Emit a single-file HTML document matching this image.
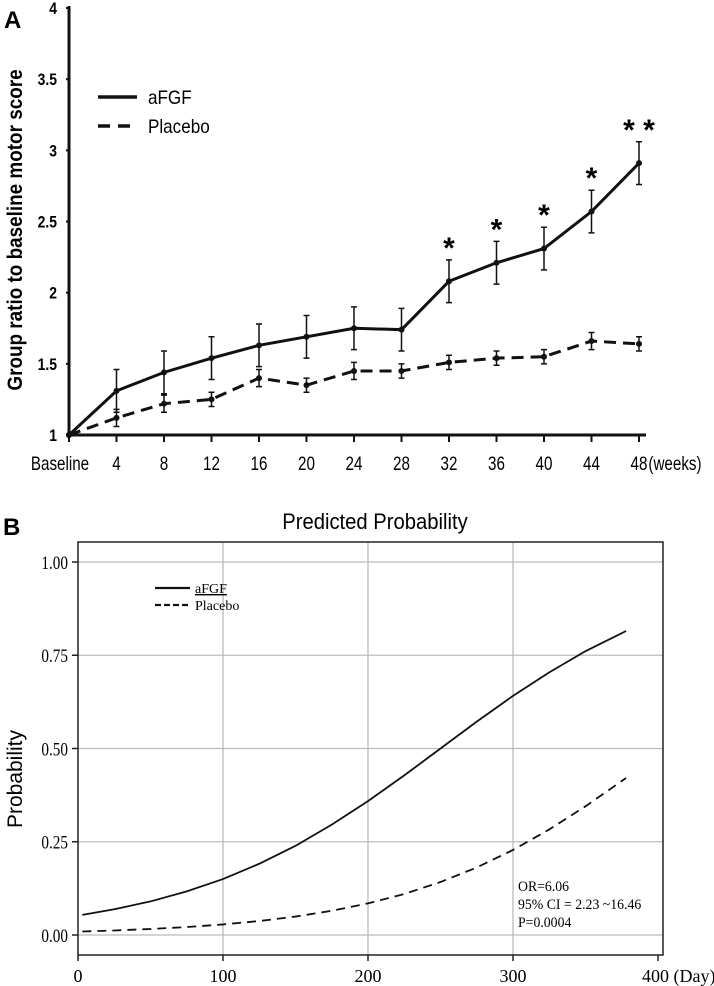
<!DOCTYPE html>
<html><head><meta charset="utf-8"><style>
html,body{margin:0;padding:0;background:#fff;}
svg{display:block;}
.sa{font-family:"Liberation Sans",sans-serif;}
.se{font-family:"Liberation Serif",serif;}
</style></head><body>
<svg id="fig" width="714" height="986" viewBox="0 0 714 986" xmlns="http://www.w3.org/2000/svg">
<g id="pa"></g>
<g id="pb"></g>
</svg>
<script>
// ---------- Panel A data ----------
const weekCats = ["Baseline","4","8","12","16","20","24","28","32","36","40","44","48"];
const afgfVals = [1,1.31,1.44,1.54,1.63,1.69,1.75,1.74,2.08,2.21,2.31,2.57,2.91];
const afgfErr  = [0,0.15,0.15,0.15,0.15,0.15,0.15,0.15,0.15,0.15,0.15,0.15,0.15];
const placeboVals = [1,1.12,1.22,1.25,1.40,1.35,1.45,1.45,1.51,1.54,1.55,1.66,1.64];
const placeboErr  = [0,0.06,0.06,0.05,0.06,0.05,0.06,0.05,0.05,0.05,0.05,0.06,0.05];
const starLabels = ["","","","","","","","","*","*","*","*","* *"];
const yTicksA = [1,1.5,2,2.5,3,3.5,4];
const yTickLabelsA = ["1","1.5","2","2.5","3","3.5","4"];
// ---------- Panel B data ----------
const days = [3,25,50,75,100,125,150,175,200,225,250,275,300,325,350,378];
const afgfProb = [0.054,0.069,0.090,0.117,0.150,0.191,0.239,0.296,0.359,0.428,0.500,0.572,0.641,0.704,0.761,0.815];
const placeboProb = [0.0094,0.0121,0.0161,0.0213,0.0283,0.0375,0.0494,0.0649,0.0848,0.110,0.142,0.181,0.228,0.283,0.345,0.421];
const yTicksB = [0,0.25,0.5,0.75,1];
const yTickLabelsB = ["0.00","0.25","0.50","0.75","1.00"];
const xTicksB = [0,100,200,300,400];
const xTickLabelsB = ["0","100","200","300","400 (Day)"];

const NS="http://www.w3.org/2000/svg";
function mk(parent,tag,attrs,text){const e=document.createElementNS(NS,tag);for(const k in attrs)e.setAttribute(k,attrs[k]);if(text!==undefined)e.textContent=text;parent.appendChild(e);return e;}

// ===== Panel A =====
const pa=document.getElementById('pa');
const xA=i=>69+i*47.5;
const yA=v=>435-(v-1)*142.33;
let t=mk(pa,'text',{x:4,y:28,'font-size':24,'font-weight':'bold',class:'sa'},'A');


let ax=mk(pa,'line',{x1:69,y1:6,x2:69,y2:438,stroke:'#111','stroke-width':3});


ax=mk(pa,'line',{x1:67,y1:435,x2:646,y2:435,stroke:'#111','stroke-width':3});


yTicksA.forEach((v,i)=>{
  mk(pa,'line',{x1:66,y1:yA(v),x2:69,y2:yA(v),stroke:'#111','stroke-width':2});
  const l=mk(pa,'text',{x:57,y:yA(v)+6,'text-anchor':'end','font-size':17,'font-weight':'bold',class:'sa',transform:`translate(57,0) scale(0.82,1) translate(-57,0)`},yTickLabelsA[i]);
  
  
});
weekCats.forEach((c,i)=>{
  mk(pa,'line',{x1:xA(i),y1:435,x2:xA(i),y2:442,stroke:'#111','stroke-width':2});
  const x=i===0?60:xA(i);
  const l=mk(pa,'text',{x:x,y:470,'text-anchor':'middle','font-size':19,class:'sa',transform:`translate(${x},0) scale(0.8,1) translate(${-x},0)`},c);
  
  
});
t=mk(pa,'text',{x:675,y:470,'text-anchor':'middle','font-size':19,class:'sa',transform:'translate(675,0) scale(0.8,1) translate(-675,0)'},'(weeks)');


t=mk(pa,'text',{x:0,y:0,'text-anchor':'middle','font-size':21,'font-weight':'bold',class:'sa',transform:'translate(22,230) rotate(-90) scale(0.9,1)'},'Group ratio to baseline motor score');


function seriesA(vals,errs,dash,name){
  const g=mk(pa,'g',{});
  
  
  const p=mk(g,'polyline',{points:vals.map((v,i)=>xA(i)+','+yA(v)).join(' '),fill:'none',stroke:'#111','stroke-width':3,'stroke-dasharray':dash});
  
  
  vals.forEach((v,i)=>{
    if(errs[i]>0){
      const e=mk(g,'path',{d:`M${xA(i)},${yA(v+errs[i])}V${yA(v-errs[i])}M${xA(i)-3},${yA(v+errs[i])}h6M${xA(i)-3},${yA(v-errs[i])}h6`,stroke:'#111','stroke-width':1.5,fill:'none'});
      
      
    }
    const c=mk(g,'circle',{cx:xA(i),cy:yA(v),r:3,fill:'#111'});
    
    
  });
}
seriesA(placeboVals,placeboErr,'12,7','placebo-series-a');
seriesA(afgfVals,afgfErr,'','afgf-series-a');
starLabels.forEach((s,i)=>{
  if(!s)return;
  const st=mk(pa,'text',{x:xA(i),y:yA(afgfVals[i]+afgfErr[i])-2,'text-anchor':'middle','font-size':30,'font-weight':'bold',class:'sa'},s);
  
  
});
let lg=mk(pa,'g',{});


mk(lg,'line',{x1:98,y1:97,x2:137,y2:97,stroke:'#111','stroke-width':3.5});
t=mk(lg,'text',{x:148,y:104,'font-size':19,class:'sa',transform:'translate(148,0) scale(0.9,1) translate(-148,0)'},'aFGF');


mk(lg,'line',{x1:98,y1:126,x2:137,y2:126,stroke:'#111','stroke-width':3.5,'stroke-dasharray':'12,8'});
t=mk(lg,'text',{x:148,y:133,'font-size':19,class:'sa',transform:'translate(148,0) scale(0.9,1) translate(-148,0)'},'Placebo');



// ===== Panel B =====
const pb=document.getElementById('pb');
const xB=d=>78+d*1.45;
const yB=v=>935-v*373;
t=mk(pb,'text',{x:3,y:535,'font-size':24,'font-weight':'bold',class:'sa'},'B');


t=mk(pb,'text',{x:375,y:529,'text-anchor':'middle','font-size':22,class:'sa',transform:'translate(375,0) scale(0.92,1) translate(-375,0)'},'Predicted Probability');


xTicksB.forEach(d=>{ if(d>0&&d<400) mk(pb,'line',{x1:xB(d),y1:542,x2:xB(d),y2:955,stroke:'#bbb','stroke-width':1.3}); });
yTicksB.forEach(v=>{ mk(pb,'line',{x1:78,y1:yB(v),x2:663,y2:yB(v),stroke:'#bbb','stroke-width':1.3}); });
let box=mk(pb,'rect',{x:78,y:542,width:585,height:413,fill:'none',stroke:'#222','stroke-width':1.5});


yTicksB.forEach((v,i)=>{
  mk(pb,'line',{x1:72,y1:yB(v),x2:78,y2:yB(v),stroke:'#222','stroke-width':1.5});
  const l=mk(pb,'text',{x:68,y:yB(v)+7,'text-anchor':'end','font-size':19,class:'se',transform:'translate(68,0) scale(0.8,1) translate(-68,0)'},yTickLabelsB[i]);
  
  
});
xTicksB.forEach((d,i)=>{
  mk(pb,'line',{x1:xB(d),y1:955,x2:xB(d),y2:961,stroke:'#222','stroke-width':1.5});
  const l=mk(pb,'text',{x:xB(d),y:982,'text-anchor':i===4?'start':'middle','font-size':18,class:'se'},xTickLabelsB[i]);
  if(i===4) l.setAttribute('x',xB(d)-16);
  
  
});
t=mk(pb,'text',{x:0,y:0,'text-anchor':'middle','font-size':21,class:'sa',transform:'translate(22,779) rotate(-90)'},'Probability');


let c1=mk(pb,'polyline',{points:days.map((d,i)=>xB(d)+','+yB(afgfProb[i])).join(' '),fill:'none',stroke:'#111','stroke-width':1.8,'stroke-linejoin':'round'});


let c2=mk(pb,'polyline',{points:days.map((d,i)=>xB(d)+','+yB(placeboProb[i])).join(' '),fill:'none',stroke:'#111','stroke-width':1.8,'stroke-dasharray':'9,6'});


lg=mk(pb,'g',{});


mk(lg,'line',{x1:155,y1:588,x2:190,y2:588,stroke:'#111','stroke-width':2.2});
t=mk(lg,'text',{x:195,y:593,'font-size':14,class:'se','text-decoration':'underline'},'aFGF');


mk(lg,'line',{x1:155,y1:605,x2:190,y2:605,stroke:'#111','stroke-width':2.2,'stroke-dasharray':'6,3'});
t=mk(lg,'text',{x:195,y:610,'font-size':14,class:'se'},'Placebo');


const ann=["OR=6.06","95% CI = 2.23 ~16.46","P=0.0004"];
ann.forEach((s,i)=>{
  const a=mk(pb,'text',{x:518,y:891+i*18,'font-size':15,class:'se',transform:'translate(518,0) scale(0.92,1) translate(-518,0)'},s);
  
  
});
</script>
</body></html>
